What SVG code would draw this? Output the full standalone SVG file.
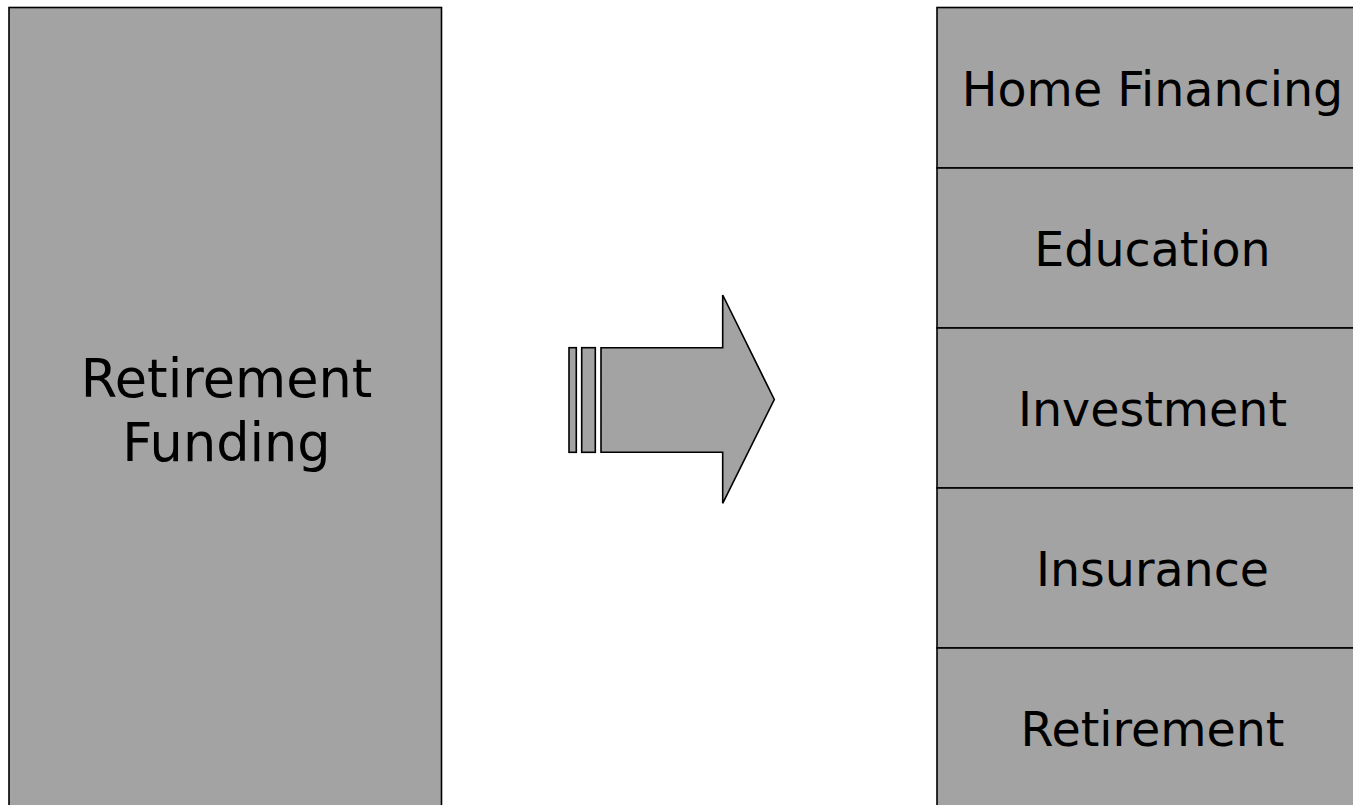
<svg xmlns="http://www.w3.org/2000/svg" width="1353" height="805" viewBox="0 0 1353 805">
<style>
.box{fill:#a3a3a3;stroke:#000;stroke-width:1.6}
.lbl{font-family:"DejaVu Sans",Verdana,sans-serif;fill:#000;text-anchor:middle}
.r{font-size:47.5px}
.l{font-size:52.5px}
</style>
<rect width="1353" height="805" fill="#fff"/>
<g id="retirement-funding">
<rect class="box" x="9" y="7.5" width="432.5" height="820"/>
<text class="lbl l" x="226.5" y="396.7">Retirement</text>
<text class="lbl l" x="226.5" y="460.7">Funding</text>
</g>
<g id="connectors">
<g id="arrow">
<rect class="box" x="569" y="347.7" width="7.3" height="104.6"/>
<rect class="box" x="581.7" y="347.7" width="13.6" height="104.6"/>
<polygon class="box" points="601,347.7 722.7,347.7 722.7,295 774.3,399.5 722.7,503.3 722.7,452.3 601,452.3"/>
</g>
</g>
<g id="home-financing">
<rect class="box" x="937" y="7.5" width="440" height="160.5"/>
<text class="lbl r" x="1152.5" y="105.7">Home Financing</text>
</g>
<g id="education">
<rect class="box" x="937" y="168" width="440" height="160"/>
<text class="lbl r" x="1152.5" y="265.7">Education</text>
</g>
<g id="investment">
<rect class="box" x="937" y="328" width="440" height="160"/>
<text class="lbl r" x="1152.5" y="425.7">Investment</text>
</g>
<g id="insurance">
<rect class="box" x="937" y="488" width="440" height="160"/>
<text class="lbl r" x="1152.5" y="585.7">Insurance</text>
</g>
<g id="retirement">
<rect class="box" x="937" y="648" width="440" height="180"/>
<text class="lbl r" x="1152.5" y="745.7">Retirement</text>
</g>
</svg>
